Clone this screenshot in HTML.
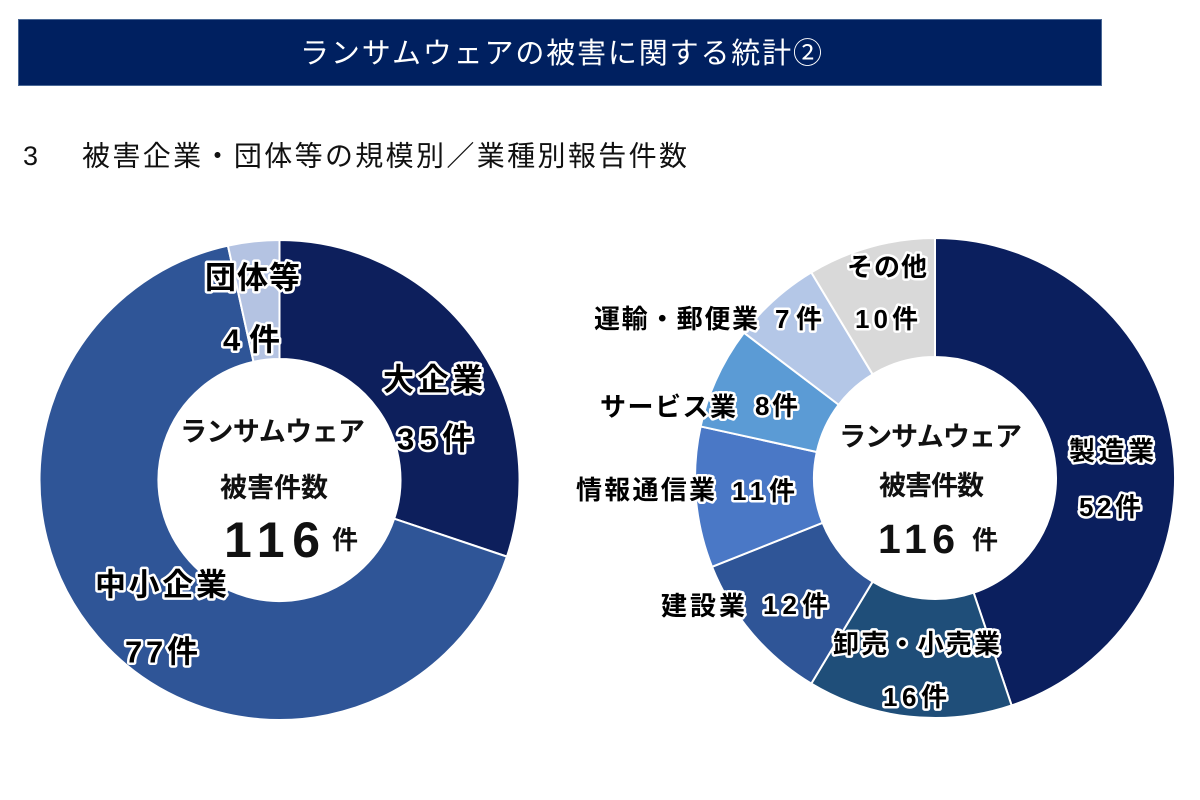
<!DOCTYPE html>
<html lang="ja">
<head>
<meta charset="utf-8">
<style>
  html,body{margin:0;padding:0;background:#fff;}
  svg{display:block;}
  .f{font-family:"Liberation Sans","Noto Sans CJK JP",sans-serif;}
  .lbl{font-weight:700;fill:#000;stroke:#fff;stroke-width:5px;stroke-linejoin:round;paint-order:stroke;}
  .ctr{font-weight:700;fill:#111;}
</style>
</head>
<body>
<svg width="1200" height="800" viewBox="0 0 1200 800" xmlns="http://www.w3.org/2000/svg">
  <rect x="0" y="0" width="1200" height="800" fill="#fff"/>
  <!-- header -->
  <rect x="18.5" y="19.5" width="1083" height="66" fill="#002060" stroke="#4a6896" stroke-width="1"/>
  <text class="f" x="300" y="54" dominant-baseline="central" font-size="29" fill="#fff" textLength="522" lengthAdjust="spacing">ランサムウェアの被害に関する統計②</text>

  <!-- subheading -->
  <text class="f" x="23" y="156" dominant-baseline="central" font-size="27" fill="#111">3</text>
  <text class="f" x="82" y="156" dominant-baseline="central" font-size="28" fill="#111" textLength="605" lengthAdjust="spacing">被害企業・団体等の規模別／業種別報告件数</text>

  <!-- left donut -->
  <g stroke="#fff" stroke-width="2" stroke-linejoin="round">
    <path d="M279.5,240 A240,240 0 0 1 506.95,556.63 L394.17,518.64 A121,121 0 0 0 279.5,359 Z" fill="#0d1f5c"/>
    <path d="M506.95,556.63 A240,240 0 1 1 227.92,245.62 L253.5,361.83 A121,121 0 1 0 394.17,518.64 Z" fill="#2f5597"/>
    <path d="M227.92,245.62 A240,240 0 0 1 279.5,240 L279.5,359 A121,121 0 0 0 253.5,361.83 Z" fill="#b4c3e2"/>
  </g>

  <!-- left labels -->
  <g class="f lbl" font-size="31" dominant-baseline="central">
    <text x="205" y="278" textLength="95" lengthAdjust="spacing">団体等</text>
    <text x="223" y="340" textLength="57" lengthAdjust="spacing">4件</text>
    <text x="383" y="380" textLength="100" lengthAdjust="spacing">大企業</text>
    <text x="397" y="439" textLength="76" lengthAdjust="spacing">35件</text>
    <text x="95" y="585" textLength="132" lengthAdjust="spacing">中小企業</text>
    <text x="125" y="652" textLength="73" lengthAdjust="spacing">77件</text>
  </g>

  <!-- left center -->
  <g class="f ctr">
    <text x="180" y="432" dominant-baseline="central" font-size="27" textLength="185" lengthAdjust="spacing">ランサムウェア</text>
    <text x="220" y="488" dominant-baseline="central" font-size="27" textLength="108" lengthAdjust="spacing">被害件数</text>
    <text x="224" y="557" font-size="50" textLength="96" lengthAdjust="spacing">116</text>
    <text x="332" y="540" dominant-baseline="central" font-size="26" textLength="25" lengthAdjust="spacing">件</text>
  </g>

  <!-- right donut -->
  <g stroke="#fff" stroke-width="2" stroke-linejoin="round">
    <path d="M935,238 A240,240 0 0 1 1011.63,705.45 L973.64,592.67 A121,121 0 0 0 935,357 Z" fill="#0b1f5e"/>
    <path d="M1011.63,705.45 A240,240 0 0 1 811.28,683.66 L872.62,581.68 A121,121 0 0 0 973.64,592.67 Z" fill="#1f4e79"/>
    <path d="M811.28,683.66 A240,240 0 0 1 712.04,566.82 L822.59,522.78 A121,121 0 0 0 872.62,581.68 Z" fill="#2f5597"/>
    <path d="M712.04,566.82 A240,240 0 0 1 700.62,426.42 L816.83,452 A121,121 0 0 0 822.59,522.78 Z" fill="#4a78c6"/>
    <path d="M700.62,426.42 A240,240 0 0 1 743.96,332.73 L838.68,404.76 A121,121 0 0 0 816.83,452 Z" fill="#5b9bd5"/>
    <path d="M743.96,332.73 A240,240 0 0 1 811.28,272.34 L872.62,374.32 A121,121 0 0 0 838.68,404.76 Z" fill="#b4c7e7"/>
    <path d="M811.28,272.34 A240,240 0 0 1 935,238 L935,357 A121,121 0 0 0 872.62,374.32 Z" fill="#d9d9d9"/>
  </g>

  <!-- right labels -->
  <g class="f lbl" font-size="26" dominant-baseline="central">
    <text x="847" y="267" textLength="80" lengthAdjust="spacing">その他</text>
    <text x="855" y="319" textLength="63" lengthAdjust="spacing">10件</text>
    <text x="594" y="319" textLength="164" lengthAdjust="spacing">運輸・郵便業</text>
    <text x="775" y="319" textLength="47" lengthAdjust="spacing">7件</text>
    <text x="600" y="407" textLength="136" lengthAdjust="spacing">サービス業</text>
    <text x="755" y="406" textLength="43" lengthAdjust="spacing">8件</text>
    <text x="576" y="490" textLength="139" lengthAdjust="spacing">情報通信業</text>
    <text x="732" y="491" textLength="63" lengthAdjust="spacing">11件</text>
    <text x="661" y="606" textLength="84" lengthAdjust="spacing">建設業</text>
    <text x="763" y="605" textLength="65" lengthAdjust="spacing">12件</text>
    <text x="833" y="644" textLength="167" lengthAdjust="spacing">卸売・小売業</text>
    <text x="883" y="697" textLength="64" lengthAdjust="spacing">16件</text>
    <text x="1069" y="451" textLength="85" lengthAdjust="spacing">製造業</text>
    <text x="1079" y="507" textLength="62" lengthAdjust="spacing">52件</text>
  </g>

  <!-- right center -->
  <g class="f ctr">
    <text x="839" y="437" dominant-baseline="central" font-size="27" textLength="183" lengthAdjust="spacing">ランサムウェア</text>
    <text x="879" y="486" dominant-baseline="central" font-size="27" textLength="105" lengthAdjust="spacing">被害件数</text>
    <text x="878" y="553" font-size="41" textLength="77" lengthAdjust="spacing">116</text>
    <text x="972" y="540" dominant-baseline="central" font-size="26" textLength="26" lengthAdjust="spacing">件</text>
  </g>
</svg>
</body>
</html>
